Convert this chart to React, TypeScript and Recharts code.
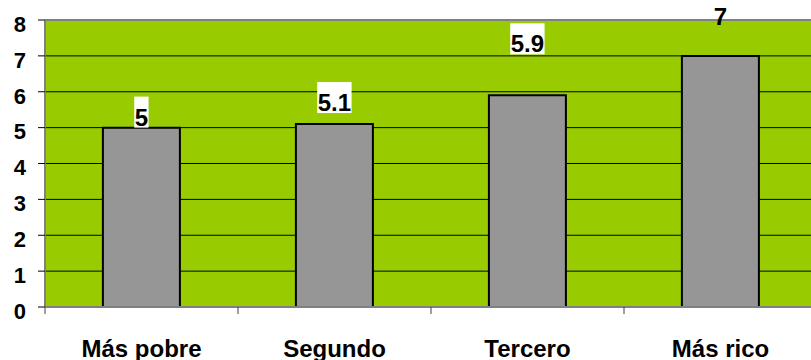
import { BarChart, Bar, XAxis, YAxis, CartesianGrid, ReferenceLine, LabelList } from 'recharts';

const categories = ['Más pobre', 'Segundo', 'Tercero', 'Más rico'];
const values = [5, 5.1, 5.9, 7];
const yTicks = [0, 1, 2, 3, 4, 5, 6, 7, 8];

const data = categories.map((name, i) => ({ name, value: values[i] }));

const FONT = '"Liberation Sans", Arial, sans-serif';
const LABEL_SIZE = 24;
const TOP = 20;
// labels were nudged by hand, so each one sits its own distance above the bar
const labelLift = [2, 13, 43, 31];

function textWidth(s: string, size: number) {
  let w = 0;
  for (const ch of s) w += ch === '.' ? 0.278 : 0.556;
  return w * size;
}

function ValueLabel(props: any) {
  const { x, y, width, value, index } = props;
  const text = String(value);
  const cx = Number(x) + Number(width) / 2;
  const base = Number(y) - labelLift[index];
  const w = textWidth(text, LABEL_SIZE) + 1;
  // the white box only shows against the green plot area
  const boxed = base - 29 >= TOP;
  return (
    <g>
      {boxed && <rect x={cx - w / 2} y={base - 29} width={w} height={31} fill="#ffffff" />}
      <text x={cx} y={base} textAnchor="middle" fontFamily={FONT} fontWeight="bold" fontSize={LABEL_SIZE} fill="#000">
        {text}
      </text>
    </g>
  );
}

function YTick(props: any) {
  const { x, y, payload } = props;
  return (
    <text x={x} y={y + 4} dy="0.355em" textAnchor="end" fontFamily={FONT} fontWeight="bold" fontSize={22} fill="#000">
      {payload.value}
    </text>
  );
}

function XTick(props: any) {
  const { x, y, payload } = props;
  const half = payload.offset ?? 96.5;
  return (
    <g>
      <line x1={x - half} y1={y} x2={x - half} y2={y + 7} stroke="#404040" strokeWidth={1} />
      <text x={x} y={y + 50} textAnchor="middle" fontFamily={FONT} fontWeight="bold" fontSize={24} fill="#000">
        {payload.value}
      </text>
    </g>
  );
}

export default function App() {
  return (
    <div style={{ position: 'absolute', left: 0, top: 0, width: 811, height: 360, overflow: 'hidden', background: '#fff' }}>
      <BarChart
        width={830}
        height={360}
        data={data}
        margin={{ top: TOP, right: 13, bottom: 0, left: 0 }}
        barCategoryGap="30%"
      >
        <CartesianGrid vertical={false} stroke="#000" strokeWidth={1} fill="#99cc00" fillOpacity={1} />
        <ReferenceLine y={8} stroke="#808080" strokeWidth={2} />
        <XAxis
          dataKey="name"
          height={53}
          interval={0}
          tickSize={0}
          tickMargin={0}
          tickLine={false}
          axisLine={{ stroke: '#808080', strokeWidth: 2 }}
          tick={<XTick />}
        />
        <YAxis
          width={45}
          domain={[0, 8]}
          ticks={yTicks}
          interval={0}
          tickSize={7}
          tickMargin={12}
          tickLine={{ stroke: '#000' }}
          axisLine={{ stroke: '#808080', strokeWidth: 2 }}
          tick={<YTick />}
        />
        <Bar dataKey="value" fill="#969696" stroke="#000" strokeWidth={2} isAnimationActive={false}>
          <LabelList dataKey="value" content={<ValueLabel />} />
        </Bar>
      </BarChart>
    </div>
  );
}
